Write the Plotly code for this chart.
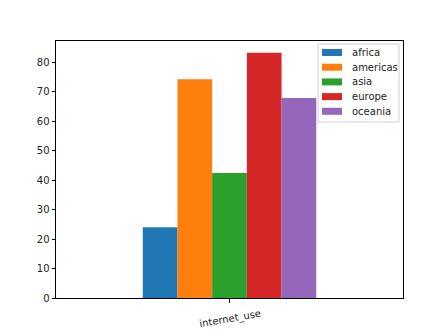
import plotly.graph_objects as go

categories = ["internet_use"]
regions = ["africa", "americas", "asia", "europe", "oceania"]
values = [24.0, 74.3, 42.5, 83.3, 67.9]
colors = ["#1f77b4", "#ff7f0e", "#2ca02c", "#d62728", "#9467bd"]

W, H = 448, 336
L, R, T, B = 56, 45, 41, 38
pw, ph = W - L - R, H - T - B


def px(x):
    return (x - L) / pw


def py(y):
    return (H - B - y) / ph


fig = go.Figure()
for r, v, c in zip(regions, values, colors):
    fig.add_trace(go.Bar(x=categories, y=[v], name=r, marker=dict(color=c, line=dict(width=0))))

shapes = []
annotations = []
# legend frame
shapes.append(dict(type="rect", xref="paper", yref="paper", x0=px(318), x1=px(399), y0=py(122), y1=py(44),
                   line=dict(color="#d0d0d0", width=1), fillcolor="rgba(255,255,255,0.8)", layer="above"))
for i, (r, c) in enumerate(zip(regions, colors)):
    cy = 52.5 + 14.7 * i
    shapes.append(dict(type="rect", xref="paper", yref="paper", x0=px(322), x1=px(342),
                       y0=py(cy + 3.5), y1=py(cy - 3.5), line=dict(width=0), fillcolor=c, layer="above"))
    annotations.append(dict(text=r, xref="paper", yref="paper", x=px(350), y=py(cy), xanchor="left",
                            yanchor="middle", showarrow=False, font=dict(size=10, color="#222")))

annotations.append(dict(text=categories[0], x=categories[0], xref="x", yref="paper", y=py(305),
                        xanchor="center", yanchor="top", textangle=-10, showarrow=False,
                        font=dict(size=10, color="#222")))

fig.update_layout(
    width=W, height=H,
    margin=dict(l=L, r=R, t=T, b=B),
    paper_bgcolor="white", plot_bgcolor="white",
    barmode="group", bargap=0.5, bargroupgap=0,
    font=dict(family="DejaVu Sans", size=10, color="#222"),
    showlegend=False,
    shapes=shapes, annotations=annotations,
)
fig.update_xaxes(range=[-0.5, 0.5], showline=True, linecolor="black", linewidth=1, mirror=True,
                 ticks="outside", ticklen=3.5, tickcolor="black", showticklabels=False,
                 showgrid=False, automargin=False)
fig.update_yaxes(range=[0, 87.3], showline=True, linecolor="black", linewidth=1, mirror=True,
                 ticks="outside", ticklen=3.5, tickcolor="black", dtick=10, showgrid=False,
                 zeroline=False, automargin=False)

fig.write_html("out.html")
